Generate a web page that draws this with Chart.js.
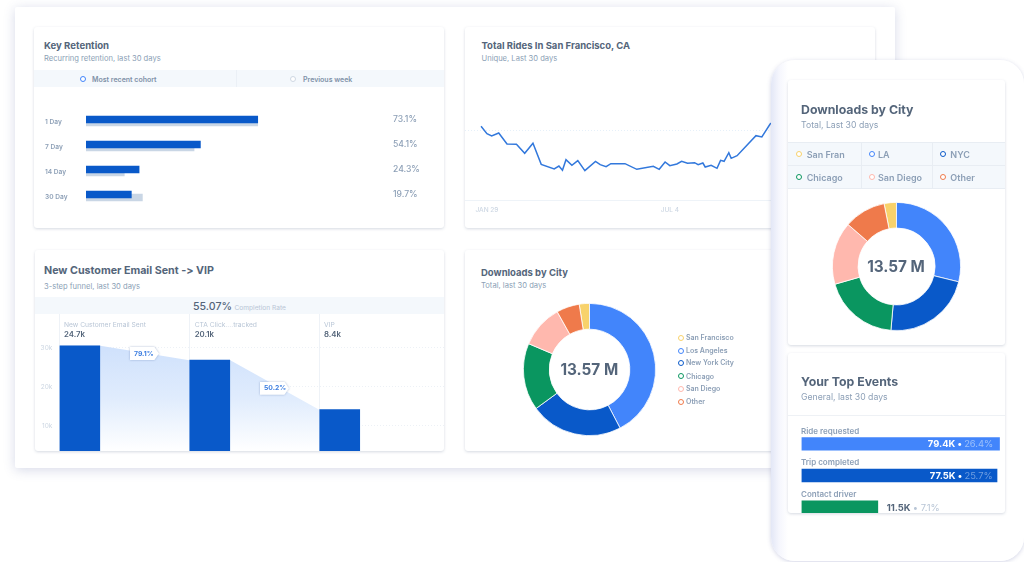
<!DOCTYPE html>
<html>
<head>
<meta charset="utf-8">
<title>Dashboard</title>
<script src="https://cdn.jsdelivr.net/npm/chart.js@4"></script>
<style>
html,body{margin:0;padding:0;background:#fff;width:1024px;height:562px;overflow:hidden;font-family:Inter,"Open Sans",sans-serif;font-variant-ligatures:none;font-feature-settings:"calt" 0,"liga" 0;}
div{position:absolute;box-sizing:border-box;}
.t{white-space:nowrap;transform:translateY(-50%);line-height:1;}
.panel{left:15px;top:7px;width:880px;height:461px;background:#fff;box-shadow:0 2px 12px rgba(70,80,150,.22);border-radius:2px;}
.card{background:#fff;border-radius:3px;box-shadow:0 1px 3px rgba(50,70,110,.2);overflow:hidden;}
.strip{background:#f4f8fc;}
.phone{left:771px;top:60px;width:253px;height:501px;border-radius:24px;background:linear-gradient(90deg,#e3e7f6 0,#f5f6fd 8px,#fff 17px);box-shadow:0 1px 4px rgba(70,80,150,.25);}
.dot{width:6px;height:6px;border-radius:50%;border:1.6px solid #000;background:#fff;transform:translate(-50%,-50%);}
.chip{filter:drop-shadow(0 0 1px rgba(60,90,150,.4));width:29px;height:13px;}
.chip div{inset:0;background:#fff;clip-path:polygon(0 0,84% 0,100% 50%,84% 100%,0 100%);}
</style>
</head>
<body>
<script>
// colours per city
var navy='#0959c9', blue='#4285fb', green='#0a9660', pink='#ffb8ae', orange='#ef7a4b', yellow='#f8d26b';
var dark='#54657a', soft='#8c9fb6', pale='#b9c6d6';

// key retention
var retentionDays=['1 Day','7 Day','14 Day','30 Day'];
var retentionRecent=[73.1,48.7,22.6,19.3];
var retentionPrevious=[73.1,46,16.3,24];
var retentionLabels=['73.1%','54.1%','24.3%','19.7%'];

// total rides
var rideDays=[0,5,9,15,22,30,37,44,51,62,66,69,72,77,82,88,97,101,106,110,122,132,146,151,156,160,166,170,175,181,184,188,190,195,200,203,206,210,212,217,233,238,245,262];
var rideCounts=[2210,1990,1920,2010,1680,1670,1400,1700,1070,930,1020,890,1210,1040,1180,880,1160,1060,1000,1090,1090,920,1010,920,1140,1030,1080,1160,1100,1120,1060,1110,990,1040,950,1190,1160,1420,1250,1330,1930,1890,2280,2700];
var rideTickDays=[5,160];
var rideTickLabels=['JAN 29','JUL 4'];
var rideGridValues=[2080];

// funnel
var funnelNames=['New Customer Email Sent','CTA Click....tracked','VIP'];
var funnelLabels=['24.7k','20.1k','8.4k'];
var funnelValues=[30500,26800,14100];
var funnelTicks=[10000,20000,30000];
var funnelRates=['79.1%','50.2%'];

// downloads
var cityNames=['San Francisco','Los Angeles','New York City','Chicago','San Diego','Other'];
var cityShort=['San Fran','LA','NYC','Chicago','San Diego','Other'];
var cityColors=[yellow,blue,navy,green,pink,orange];
var cityShares=[2.5,42.3,22.6,16.4,10.5,5.6];
var citySharesPhone=[3.1,28.8,22.5,19.1,15.8,10.5];

// top events
var eventNames=['Ride requested','Trip completed','Contact driver'];
var eventValues=[79.4,78.4,30.6];
var eventCounts=['79.4K','77.5K','11.5K'];
var eventPercents=['26.4%','25.7%','7.1%'];
var eventColors=[blue,navy,green];

Chart.defaults.font.family='Inter, "Open Sans", sans-serif';
Chart.defaults.animation=false;
Chart.defaults.responsive=false;
Chart.defaults.plugins.legend.display=false;
Chart.defaults.plugins.tooltip.enabled=false;

function box(cls,x,y,w,h,parent){
	var d=document.createElement('div');
	d.className=cls;
	d.style.left=x+'px';d.style.top=y+'px';
	if(w)d.style.width=w+'px';
	if(h)d.style.height=h+'px';
	(parent||document.body).appendChild(d);
	return d;
}
function text(x,y,str,size,weight,color,right){
	var d=document.createElement('div');
	d.className='t';
	d.textContent=str;
	d.style.top=y+'px';
	d.style.fontSize=size+'px';d.style.fontWeight=weight;d.style.color=color;
	if(right)d.style.right=(1024-x)+'px'; else d.style.left=x+'px';
	document.body.appendChild(d);
	return d;
}
function dot(x,y,color){
	var d=box('dot',x,y);
	d.style.borderColor=color;
}
// clipH cuts the canvas off, for charts running past the bottom of their card
function canvas(x,y,w,h,clipH){
	var wrap=box('',x,y,w,clipH||h);
	wrap.style.overflow='hidden';
	var c=document.createElement('canvas');
	c.width=w;c.height=h;c.style.display='block';
	wrap.appendChild(c);
	return c;
}
function noPadding(s){s.paddingTop=0;s.paddingBottom=0;}

function setup(){
	box('panel');

	// Key Retention
	box('card',34,27,410,201);
	text(44,45.5,'Key Retention',9.6,700,dark);
	text(44,59.4,'Recurring retention, last 30 days',7.6,400,soft);
	box('strip',34,70,410,17);
	box('',235.5,70,1,17).style.background='#ebf0f6';
	dot(82.7,78.7,'#4285fb');
	text(92,78.7,'Most recent cohort',7,600,'#7f91a8');
	dot(293.3,78.7,'#cfd8e3');
	text(303,78.7,'Previous week',7,600,'#7f91a8');
	// day labels sit with the lower chart, they hang a little below the bars
	retentionBars(canvas(45,109.5,399,100),retentionPrevious,'#c9d6e5',true);
	retentionBars(canvas(45,107,399,100),retentionRecent,navy,false);
	retentionLabels.forEach(function(s,i){text(393,119+i*25,s,8.6,500,soft);});

	// Total Rides
	box('card',465,27,410,201);
	text(481.5,45.5,'Total Rides In San Francisco, CA',9.5,700,dark);
	text(481.5,59.4,'Unique, Last 30 days',7.6,400,soft);
	rideChart(canvas(465,80,410,142));

	// Funnel
	box('card',35,250,409,201);
	text(44,271,'New Customer Email Sent -> VIP',10.7,700,dark);
	text(44,286.5,'3-step funnel, last 30 days',7.6,400,soft);
	box('strip',35,297,409,17);
	text(193,306.8,'55.07%',10.6,500,dark);
	text(234.5,307.6,'Completion Rate',6.6,400,pale);
	funnelChart(canvas(35,314,409,137));
	var colX=[64,194.7,324];
	funnelNames.forEach(function(s,i){
		text(colX[i],324.7,s,6.7,400,pale);
		text(colX[i],335,funnelLabels[i],7.8,600,dark);
	});
	var chipX=[130,260], chipY=[347,381.7];
	funnelRates.forEach(function(s,i){
		var c=box('chip',chipX[i],chipY[i]);
		box('',0,0,0,0,c);
		text(chipX[i]+4,chipY[i]+6.7,s,6.8,700,'#3b7de0');
	});

	// Downloads by City
	box('card',465,250,410,201);
	text(481,272.5,'Downloads by City',9.5,700,dark);
	text(481,286,'Total, last 30 days',7.6,400,soft);
	cityChart(canvas(522.5,303,133,133),cityShares,-9,'61%');
	text(589.3,369.7,'13.57 M',15.3,700,dark).style.transform='translate(-50%,-50%)';
	var legendY=[337.3,350,362,375.7,388.3,401];
	cityNames.forEach(function(s,i){
		dot(681,legendY[i]+.5,cityColors[i]);
		text(686,legendY[i],s,7,600,soft);
	});

	// Phone
	box('phone');
	box('card',788,80,217,265);
	text(801,109.5,'Downloads by City',12.3,700,dark);
	text(801,124.7,'Total, Last 30 days',8.7,400,soft);
	box('strip',788,142,217,46);
	box('',788,142,217,1).style.background='#e8edf3';
	box('',788,164.5,217,1).style.background='#e8edf3';
	box('',788,187.5,217,1).style.background='#e8edf3';
	box('',861,142,1,46).style.background='#e8edf3';
	box('',932,142,1,46).style.background='#e8edf3';
	var shortDotX=[799,872,943.3], shortTextX=[806.7,878,950.3], shortY=[154,177.3];
	cityShort.forEach(function(s,i){
		var col=i%3, row=Math.floor(i/3);
		dot(shortDotX[col],shortY[row]-.5,cityColors[i]);
		text(shortTextX[col],shortY[row],s,9,600,soft);
	});
	cityChart(canvas(831.5,202,129,129),citySharesPhone,-11.2,'60%');
	text(896,266.5,'13.57 M',15.3,700,dark).style.transform='translate(-50%,-50%)';

	box('card',788,353,217,160);
	text(801,382,'Your Top Events',12.3,700,dark);
	text(801,397,'General, last 30 days',8.7,400,soft);
	box('',788,415,217,1).style.background='#eef1f5';
	eventChart(canvas(788,427.8,217,95,85));
	var labelY=[431,462,494];
	eventNames.forEach(function(s,i){text(801,labelY[i],s,8,600,soft);});
	var e1=text(993.3,444.4,'',9.4,700,'#fff',true);
	e1.innerHTML=eventCounts[0]+' &bull; <span style="color:#9cc0fb;font-weight:400">'+eventPercents[0]+'</span>';
	var e2=text(992.7,476,'',9.4,700,'#fff',true);
	e2.innerHTML=eventCounts[1]+' &bull; <span style="color:#6f9ee0;font-weight:400">'+eventPercents[1]+'</span>';
	var e3=text(886.7,507.7,'',9.4,700,dark);
	e3.innerHTML=eventCounts[2]+' <span style="color:#b9c6d6;font-weight:400">&bull; '+eventPercents[2]+'</span>';
}

function retentionBars(c,values,color,showLabels){
	new Chart(c,{
		type:'bar',
		data:{labels:retentionDays,datasets:[{data:values,backgroundColor:color,barThickness:7}]},
		options:{
			indexAxis:'y',
			layout:{padding:0},
			scales:{
				x:{display:false,min:0,max:152.4},
				y:{
					grid:{display:false,drawTicks:false},
					border:{display:false},
					afterFit:function(s){s.width=41;noPadding(s);},
					ticks:{display:showLabels,crossAlign:'far',padding:0,color:'#8c9fb6',font:{size:6.6,weight:600}}
				}
			}
		}
	});
}

function rideChart(c){
	var points=rideDays.map(function(d,i){return {x:d,y:rideCounts[i]};});
	new Chart(c,{
		type:'line',
		data:{datasets:[{data:points,borderColor:'#3278dc',borderWidth:1.5,pointRadius:0,tension:0}]},
		options:{
			layout:{padding:0},
			scales:{
				x:{
					type:'linear',min:-13.6,max:333.9,
					afterBuildTicks:function(s){s.ticks=rideTickDays.map(function(v){return {value:v};});},
					afterFit:function(s){s.height=22;},
					grid:{display:false,drawTicks:false},
					border:{color:'#eef3f8',width:1},
					ticks:{
						autoSkip:false,maxRotation:0,padding:6,color:'#cdd7e3',font:{size:6.5,weight:500},
						callback:function(v){return rideTickLabels[rideTickDays.indexOf(v)];}
					}
				},
				y:{
					min:0,max:3600,
					afterFit:function(s){s.width=0;},
					afterBuildTicks:function(s){s.ticks=rideGridValues.map(function(v){return {value:v};});},
					grid:{color:'#e6f0f9',drawTicks:false},
					border:{display:false,dash:[1,2]},
					ticks:{display:false}
				}
			}
		}
	});
}

function funnelChart(c){
	// bar half width in step units, a step is one column of the funnel
	var half=20.5/130;
	var bars=funnelValues.map(function(v,i){return {x:i+half,y:v};});
	var flow=[];
	funnelValues.forEach(function(v,i){
		flow.push({x:i,y:v});
		flow.push({x:i+2*half,y:v});
	});
	flow.pop();
	new Chart(c,{
		type:'bar',
		data:{datasets:[
			{data:bars,backgroundColor:navy,barThickness:40,grouped:false,order:1},
			{
				type:'line',data:flow,order:2,pointRadius:0,borderWidth:0,tension:0,fill:'start',
				backgroundColor:function(ctx){
					var ch=ctx.chart, a=ch.chartArea;
					if(!a)return '#cfe1fc';
					var g=ch.ctx.createLinearGradient(0,ch.scales.y.getPixelForValue(funnelValues[0]),0,a.bottom);
					g.addColorStop(0,'#cfe1fc');
					g.addColorStop(.5,'#e0ecfd');
					g.addColorStop(1,'#ffffff');
					return g;
				}
			}
		]},
		options:{
			layout:{padding:0},
			scales:{
				x:{
					type:'linear',min:0,max:2.96,offset:false,
					afterFit:function(s){s.height=0;},
					grid:{color:'#eef2f7',drawTicks:false,offset:false},
					border:{display:false},
					ticks:{display:false,stepSize:1,includeBounds:false}
				},
				y:{
					min:3510,max:38640,
					afterFit:function(s){s.width=24.3;noPadding(s);},
					afterBuildTicks:function(s){s.ticks=funnelTicks.map(function(v){return {value:v};});},
					grid:{color:'#edf1f6',drawTicks:false},
					border:{display:false,dash:[1,2]},
					ticks:{padding:7,color:'#ccd6e2',font:{size:6.5},callback:function(v){return v/1000+'k';}}
				}
			}
		}
	});
}

function cityChart(c,values,rotation,cutout){
	new Chart(c,{
		type:'doughnut',
		data:{labels:cityNames,datasets:[{data:values,backgroundColor:cityColors,borderColor:'#fff',borderWidth:.8}]},
		options:{cutout:cutout,rotation:rotation,layout:{padding:0}}
	});
}

function eventChart(c){
	new Chart(c,{
		type:'bar',
		data:{labels:eventNames,datasets:[{data:eventValues,backgroundColor:eventColors,barThickness:12.7}]},
		options:{
			indexAxis:'y',
			layout:{padding:0},
			scales:{
				x:{display:false,min:0,max:81.6},
				y:{
					grid:{display:false,drawTicks:false},
					border:{display:false},
					afterFit:function(s){s.width=13.5;noPadding(s);},
					ticks:{display:false}
				}
			}
		}
	});
}

window.onload=setup;
</script>
</body>
</html>
